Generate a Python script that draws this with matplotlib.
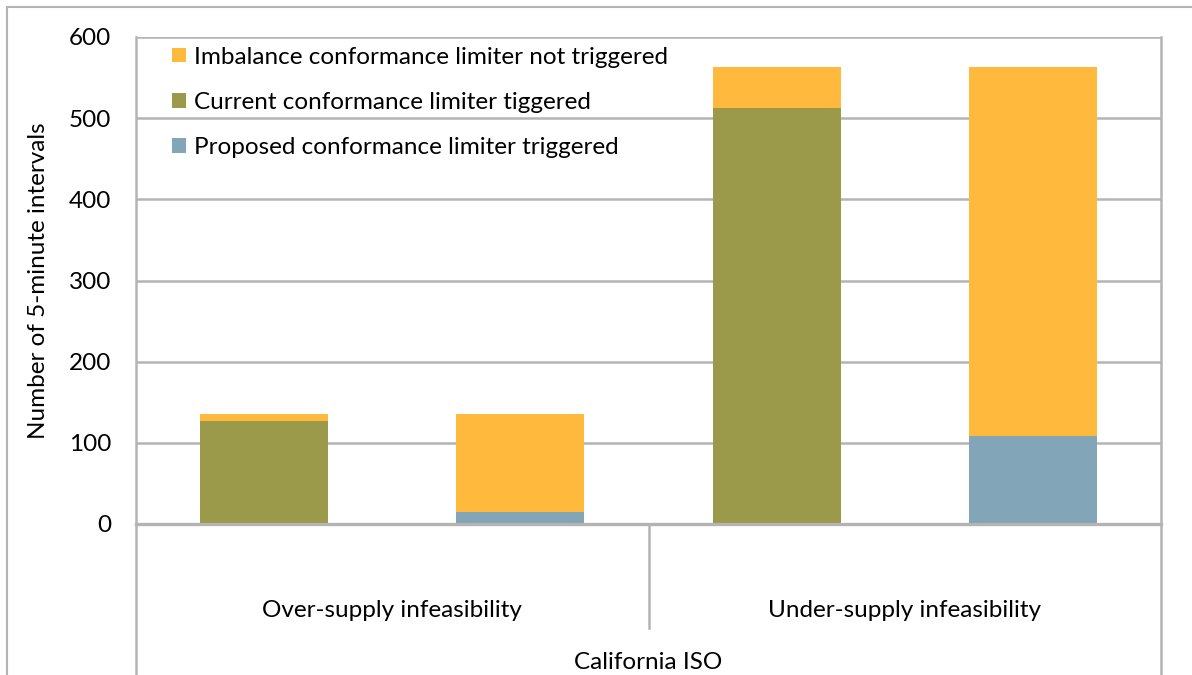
import matplotlib.pyplot as plt
from matplotlib.patches import Rectangle
import numpy as np

plt.rcParams["font.family"] = ["Lato", "DejaVu Sans"]

groups = ["Over-supply infeasibility", "Under-supply infeasibility"]
outer_label = "California ISO"
# four bars: current / proposed for each group
not_triggered = [8, 120, 51, 454]
current_triggered = [127, 0, 512, 0]
proposed_triggered = [0, 15, 0, 109]
yticks = [0, 100, 200, 300, 400, 500, 600]

c_orange = "#FFB93C"
c_green = "#9A9A4A"
c_blue = "#82A5B8"
grid_c = "#b4b4b4"
fs = 17.5

fig = plt.figure(figsize=(11.92, 6.75), dpi=100)
ax = fig.add_axes([136 / 1192, 1 - 524 / 675, 1025 / 1192, 487 / 675])

x = np.arange(4)
width = 0.5
ax.bar(x, current_triggered, width, color=c_green, label="Current conformance limiter tiggered")
ax.bar(x, proposed_triggered, width, color=c_blue, label="Proposed conformance limiter triggered")
bottoms = np.array(current_triggered) + np.array(proposed_triggered)
ax.bar(x, not_triggered, width, bottom=bottoms, color=c_orange,
       label="Imbalance conformance limiter not triggered")

ax.set_xlim(-0.5, 3.5)
ax.set_ylim(0, 600)
ax.set_yticks(yticks)
ax.set_yticklabels([str(v) for v in yticks], fontsize=fs)
ax.set_xticks([])
ax.tick_params(axis="y", length=0, pad=18)
ax.yaxis.grid(True, color=grid_c, linewidth=1.8)
ax.set_axisbelow(True)
for s in ["left", "right", "bottom"]:
    ax.spines[s].set_color(grid_c)
    ax.spines[s].set_linewidth(1.8)
ax.spines["top"].set_visible(False)
ax.spines["bottom"].set_linewidth(2.4)
ax.set_ylabel("Number of 5-minute intervals", fontsize=fs, labelpad=14)

# category axis below
ax.plot([0.5, 0.5], [0, -0.213], transform=ax.transAxes, color=grid_c,
        linewidth=1.8, clip_on=False)
ax.plot([0, 0], [0, -0.32], transform=ax.transAxes, color=grid_c,
        linewidth=1.8, clip_on=False)
ax.plot([1, 1], [0, -0.32], transform=ax.transAxes, color=grid_c,
        linewidth=1.8, clip_on=False)
for i, g in enumerate(groups):
    ax.text(0.25 + 0.5 * i, -0.177, g, transform=ax.transAxes, ha="center",
            va="center", fontsize=fs)
ax.text(0.5, -0.284, outer_label, transform=ax.transAxes, ha="center",
        va="center", fontsize=fs)

handles, labels = ax.get_legend_handles_labels()
order = [2, 0, 1]
ax.legend([handles[i] for i in order], [labels[i] for i in order],
          loc="upper left", bbox_to_anchor=(0.014, 1.025), frameon=False,
          fontsize=fs, handlelength=0.55, handleheight=0.55,
          handletextpad=0.35, labelspacing=1.0)

# outer chart border
fig.add_artist(Rectangle((7 / 1192, -0.1), 1.1, 1 - 7 / 675 + 0.1,
                         transform=fig.transFigure, fill=False,
                         edgecolor=grid_c, linewidth=1.5))

fig.savefig("out.png", dpi=100)
